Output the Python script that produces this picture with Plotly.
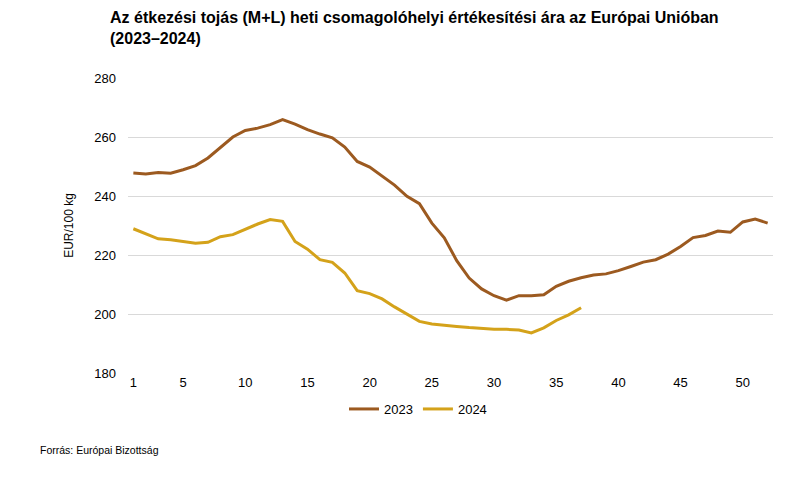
import plotly.graph_objects as go

weeks_2023 = list(range(1, 53))
values_2023 = [247.8, 247.5, 248.0, 247.7, 248.9, 250.3, 252.9, 256.3, 260.0, 262.2,
               263.0, 264.2, 265.9, 264.4, 262.5, 261.0, 259.7, 256.6, 251.7, 249.8,
               246.9, 243.7, 239.9, 237.4, 230.8, 225.8, 218.1, 212.2, 208.5, 206.2,
               204.7, 206.2, 206.2, 206.5, 209.4, 211.1, 212.3, 213.2, 213.6, 214.7,
               216.1, 217.6, 218.4, 220.3, 222.9, 225.9, 226.6, 228.1, 227.7, 231.2,
               232.2, 230.8]

weeks_2024 = list(range(1, 38))
values_2024 = [228.9, 227.2, 225.5, 225.2, 224.5, 224.0, 224.3, 226.2, 226.9, 228.8,
               230.5, 232.0, 231.4, 224.6, 222.0, 218.4, 217.5, 213.9, 207.9, 206.9,
               205.1, 202.4, 200.0, 197.5, 196.6, 196.1, 195.8, 195.4, 195.1, 194.8,
               194.8, 194.6, 193.6, 195.3, 197.8, 199.7, 202.1]

x_ticks = [1, 5, 10, 15, 20, 25, 30, 35, 40, 45, 50]
y_ticks = [180, 200, 220, 240, 260, 280]

title_text = "Az étkezési tojás (M+L) heti csomagolóhelyi értékesítési ára az Európai Unióban<br>(2023–2024)"
source_text = "Forrás: Európai Bizottság"

font_main = "Liberation Sans Narrow, Arial Narrow, Liberation Sans, Arial, sans-serif"
font_reg = "Liberation Sans, Arial, sans-serif"

PW, PH = 645, 295  # plot area size in px

fig = go.Figure()
fig.add_trace(go.Scatter(x=weeks_2023, y=values_2023, mode="lines", name="2023",
                         line=dict(color="#9C5A20", width=3)))
fig.add_trace(go.Scatter(x=weeks_2024, y=values_2024, mode="lines", name="2024",
                         line=dict(color="#D4A21A", width=3)))

fig.update_layout(
    width=801, height=480,
    paper_bgcolor="white", plot_bgcolor="white",
    margin=dict(l=128, r=28, t=78, b=107, autoexpand=False),
    showlegend=True,
    legend=dict(orientation="h", x=(344 - 128) / PW, xanchor="left", y=-36/PH, yanchor="middle",
                font=dict(family=font_main, size=13, color="#000000"),
                tracegroupgap=0),
    xaxis=dict(range=[0.57, 52.43], tickmode="array", tickvals=x_ticks,
               showgrid=False, zeroline=False, showline=False, ticks="",
               automargin=False,
               tickfont=dict(family=font_main, size=13, color="#000000")),
    yaxis=dict(range=[180, 280], tickmode="array", tickvals=y_ticks,
               showgrid=True, gridcolor="#D9D9D9", gridwidth=1, zeroline=False,
               showline=False, ticks="", ticklabelstandoff=11, automargin=False,
               title=dict(text="EUR/100 kg", standoff=18,
                          font=dict(family=font_reg, size=12, color="#000000")),
               tickfont=dict(family=font_reg, size=13, color="#000000")),
)

fig.add_annotation(text="<b>" + title_text + "</b>", xref="paper", yref="paper",
                   x=(108 - 128) / PW, y=1 + (78 - 7) / PH,
                   xanchor="left", yanchor="top", align="left", showarrow=False,
                   font=dict(family=font_main, size=16, color="#000000"))

fig.add_annotation(text=source_text, xref="paper", yref="paper",
                   x=(38 - 128) / PW, y=-(450 - 373) / PH, xanchor="left", yanchor="middle",
                   showarrow=False,
                   font=dict(family=font_main, size=10.5, color="#000000"))

fig.write_html("out.html", config={"displayModeBar": False},
               post_script="document.body.style.margin='0';")
